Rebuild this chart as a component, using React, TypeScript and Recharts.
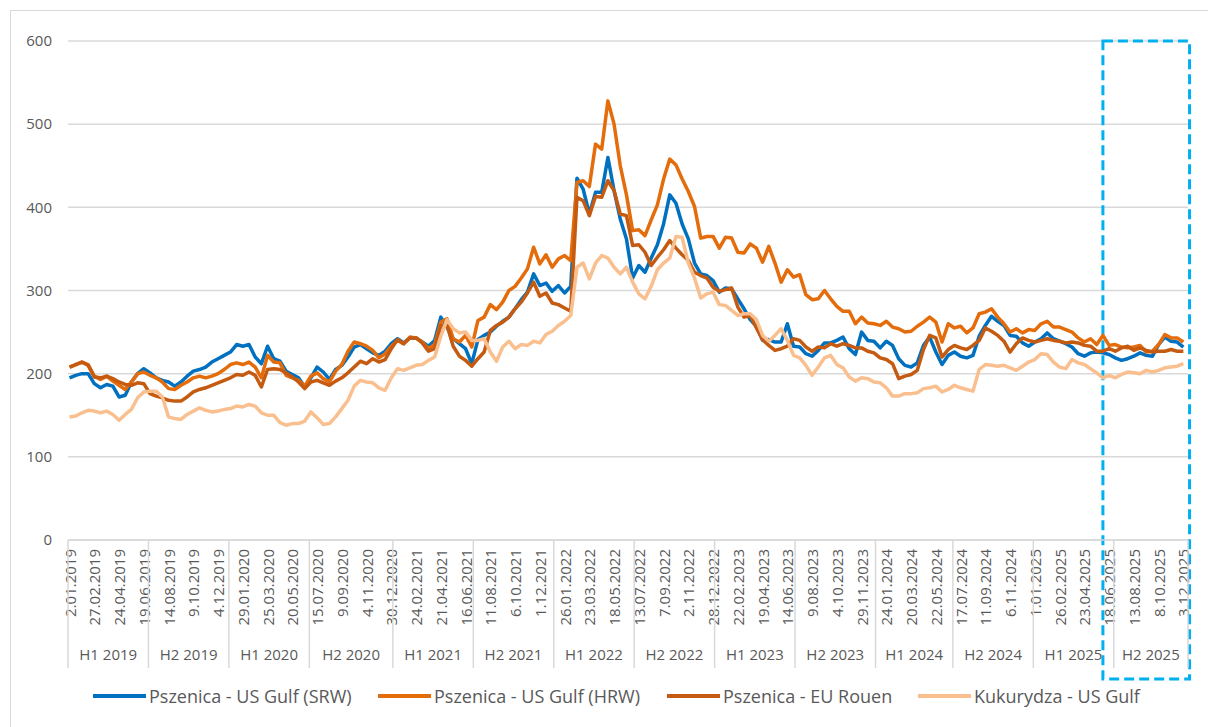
import { LineChart, Line, XAxis, YAxis, CartesianGrid, ReferenceArea } from "recharts";

// tick labels every 8 weeks (category index = 8 * position)
const DATE_LABELS = [
  "2.01.2019", "27.02.2019", "24.04.2019", "19.06.2019", "14.08.2019", "9.10.2019", "4.12.2019",
  "29.01.2020", "25.03.2020", "20.05.2020", "15.07.2020", "9.09.2020", "4.11.2020", "30.12.2020",
  "24.02.2021", "21.04.2021", "16.06.2021", "11.08.2021", "6.10.2021", "1.12.2021",
  "26.01.2022", "23.03.2022", "18.05.2022", "13.07.2022", "7.09.2022", "2.11.2022", "28.12.2022",
  "22.02.2023", "19.04.2023", "14.06.2023", "9.08.2023", "4.10.2023", "29.11.2023",
  "24.01.2024", "20.03.2024", "22.05.2024", "17.07.2024", "11.09.2024", "6.11.2024",
  "1.01.2025", "26.02.2025", "23.04.2025", "18.06.2025", "13.08.2025", "8.10.2025", "3.12.2025",
];

const HALF_LABELS = [
  "H1 2019", "H2 2019", "H1 2020", "H2 2020", "H1 2021", "H2 2021", "H1 2022",
  "H2 2022", "H1 2023", "H2 2023", "H1 2024", "H2 2024", "H1 2025", "H2 2025",
];
// first weekly category of each half-year
const HALF_STARTS = [0, 26, 52, 78, 105, 131, 157, 183, 209, 235, 261, 286, 312, 338];
const WEEK_COUNT = 362;

const Y_TICKS = [0, 100, 200, 300, 400, 500, 600];

// values every 2 weeks, from 2.01.2019
const SRW = [
  195, 198, 200, 200, 188, 183, 187, 185, 172, 174,
  190, 200, 206, 201, 195, 192, 190, 185, 190, 197,
  203, 205, 208, 214, 218, 222, 226, 235, 233, 235,
  220, 212, 233, 218, 215, 203, 199, 195, 184, 195,
  208, 202, 193, 205, 210, 220, 232, 235, 230, 225,
  222, 227, 236, 242, 237, 243, 243, 238, 233, 240,
  268, 256, 242, 236, 230, 212, 241, 246, 250, 257,
  263, 268, 278, 289, 298, 320, 306, 309, 299, 306,
  297, 305, 435, 422, 392, 418, 418, 460, 420, 386,
  362, 315, 330, 322, 339, 355, 380, 415, 405, 380,
  362, 333, 320, 318, 312, 298, 303, 302, 290, 278,
  265, 257, 240, 241, 238, 238, 260, 233, 232, 224,
  221, 228, 237, 237, 240, 244, 230, 223, 250, 240,
  239, 231, 239, 234, 218, 210, 208, 213, 234, 244,
  226, 211, 222, 226, 221, 219, 222, 245, 258, 269,
  263, 258, 246, 245, 237, 233, 238, 242, 249, 242,
  239, 236, 232, 224, 221, 225, 226, 225, 223, 219,
  216, 218, 221, 225, 222, 221, 235, 244, 239, 238,
  232,
];

const HRW = [
  208, 211, 214, 211, 197, 193, 197, 191, 186, 181,
  190, 200, 202, 198, 195, 190, 182, 181, 186, 190,
  195, 197, 195, 197, 200, 205, 211, 213, 211, 214,
  208, 195, 222, 214, 213, 198, 195, 192, 185, 197,
  201, 194, 190, 203, 211, 227, 238, 236, 233, 228,
  219, 224, 233, 240, 236, 244, 243, 238, 230, 235,
  262, 266, 242, 238, 246, 232, 264, 268, 283, 277,
  286, 300, 305, 315, 326, 352, 332, 343, 328, 338,
  342, 336, 430, 432, 425, 476, 470, 528, 500, 450,
  415, 372, 373, 366, 385, 403, 434, 458, 451, 434,
  419, 401, 363, 365, 365, 351, 364, 363, 346, 345,
  356, 351, 334, 353, 333, 310, 325, 316, 319, 295,
  289, 290, 300, 290, 281, 275, 275, 260, 268, 261,
  260, 258, 263, 256, 254, 250, 251, 257, 262, 268,
  262, 238, 260, 255, 257, 249, 255, 272, 274, 278,
  268, 260, 250, 254, 249, 253, 252, 260, 263, 256,
  256, 253, 250, 243, 238, 242, 235, 246, 234, 235,
  232, 231, 232, 234, 226, 227, 235, 247, 243, 243,
  238,
];

const ROUEN = [
  208, 211, 214, 210, 196, 195, 197, 194, 190, 187,
  186, 189, 188, 176, 173, 171, 168, 167, 167, 172,
  178, 181, 183, 186, 189, 192, 195, 199, 198, 202,
  198, 184, 205, 206, 205, 201, 196, 190, 182, 190,
  192, 189, 186, 191, 195, 201, 208, 215, 212, 218,
  214, 217, 230, 241, 236, 243, 243, 237, 227, 230,
  258, 258, 233, 221, 216, 209, 218, 226, 252, 258,
  262, 268, 278, 286, 297, 310, 293, 297, 285, 283,
  279, 275, 412, 408, 390, 413, 412, 432, 420, 392,
  390, 354, 355, 346, 330, 340, 349, 360, 351, 343,
  336, 322, 318, 315, 304, 299, 301, 303, 280, 268,
  270, 255, 241, 234, 228, 230, 233, 242, 240, 232,
  227, 232, 231, 236, 233, 236, 234, 231, 231, 227,
  225, 219, 217, 212, 194, 197, 199, 204, 229, 246,
  243, 220, 229, 234, 231, 229, 234, 240, 255, 251,
  246, 239, 226, 236, 243, 240, 238, 240, 242, 240,
  239, 237, 238, 237, 234, 233, 227, 227, 230, 227,
  231, 233, 228, 231, 228, 226, 227, 227, 229, 227,
  227,
];

const CORN = [
  148, 149, 153, 156, 155, 153, 155, 151, 144, 151,
  157, 171, 178, 179, 179, 172, 148, 146, 145, 151,
  155, 159, 156, 154, 155, 157, 158, 161, 160, 163,
  161, 153, 150, 150, 141, 138, 140, 140, 143, 154,
  147, 139, 140, 148, 158, 168, 185, 192, 190, 189,
  183, 180, 195, 206, 204, 207, 210, 211, 216, 220,
  245, 265, 254, 249, 250, 240, 240, 242, 226, 215,
  232, 239, 230, 235, 234, 239, 237, 247, 251, 258,
  263, 270, 328, 333, 314, 333, 342, 339, 328, 320,
  328, 310, 296, 290, 305, 325, 333, 339, 365, 364,
  333, 315, 291, 296, 298, 283, 282, 276, 270, 272,
  272, 265, 246, 239, 246, 254, 240, 222, 219, 210,
  198, 208, 219, 222, 211, 207, 196, 191, 195, 194,
  190, 189, 183, 173, 173, 176, 176, 177, 182, 183,
  185, 178, 181, 186, 183, 181, 179, 205, 211, 210,
  209, 210, 207, 204, 209, 214, 217, 224, 223, 214,
  208, 206, 217, 213, 211, 206, 201, 195, 198, 195,
  199, 202, 201, 200, 204, 202, 204, 207, 208, 209,
  212,
];

const SERIES = [
  { key: "srw", name: "Pszenica - US Gulf (SRW)", color: "#0070C0" },
  { key: "hrw", name: "Pszenica - US Gulf (HRW)", color: "#E46C0A" },
  { key: "rouen", name: "Pszenica - EU Rouen", color: "#C55A11" },
  { key: "corn", name: "Kukurydza - US Gulf", color: "#F9BF8F" },
];

const data = SRW.map((v, i) => ({ w: i * 2, srw: v, hrw: HRW[i], rouen: ROUEN[i], corn: CORN[i] }));

const dateTicks = DATE_LABELS.map((_, i) => i * 8);
const boundaryTicks = [...HALF_STARTS, WEEK_COUNT].map((s) => s - 0.5);
const halfCenters = HALF_STARTS.map((s, i) => (s + (HALF_STARTS[i + 1] ?? WEEK_COUNT)) / 2 - 0.5);

const FONT = "'Open Sans', 'Segoe UI', sans-serif";
const TEXT = "#595959";
const GRID = "#d9d9d9";
const LEGEND_LEFT = [93, 378, 667, 918];

function DateTick(props: any) {
  const { x, y, payload } = props;
  const v = payload.value;
  if (!Number.isInteger(v)) {
    return <line x1={x} x2={x} y1={y} y2={y + 128} stroke={GRID} strokeWidth={1.5} />;
  }
  const ty = y + 9;
  return (
    <text
      x={x}
      y={ty}
      transform={`rotate(-90 ${x} ${ty})`}
      textAnchor="end"
      dominantBaseline="central"
      fill={TEXT}
      fontSize={15}
      fontFamily={FONT}
    >
      {DATE_LABELS[v / 8]}
    </text>
  );
}

function HalfTick(props: any) {
  const { x, y, payload } = props;
  const idx = halfCenters.indexOf(payload.value);
  return (
    <text x={x} y={y + 34} textAnchor="middle" dominantBaseline="central" fill={TEXT} fontSize={15} fontFamily={FONT}>
      {HALF_LABELS[idx]}
    </text>
  );
}

function DashedBox(props: any) {
  const { x, y, width, height } = props;
  return (
    <rect
      x={x}
      y={y}
      width={width}
      height={height + 139}
      fill="none"
      stroke="#00B0F0"
      strokeWidth={3}
      strokeDasharray="10 5"
    />
  );
}

export default function App() {
  return (
    <div style={{ position: "absolute", left: 0, top: 0, width: 1208, height: 727, background: "#fff", overflow: "hidden", fontFamily: FONT }}>
      <div style={{ position: "absolute", left: 10, top: 10, width: 1220, height: 740, border: `1px solid ${GRID}` }} />
      <LineChart width={1208} height={727} data={data} margin={{ top: 41, right: 20, left: 0, bottom: 47 }}>
        <CartesianGrid vertical={false} stroke={GRID} strokeWidth={1.5} />
        <XAxis
          dataKey="w"
          type="number"
          domain={[-0.5, WEEK_COUNT - 0.5]}
          allowDataOverflow
          ticks={[...dateTicks, ...boundaryTicks]}
          interval={0}
          tick={<DateTick />}
          tickLine={false}
          tickSize={0}
          tickMargin={0}
          height={80}
          axisLine={{ stroke: GRID, strokeWidth: 1.5 }}
        />
        <XAxis
          xAxisId="half"
          dataKey="w"
          type="number"
          domain={[-0.5, WEEK_COUNT - 0.5]}
          allowDataOverflow
          ticks={halfCenters}
          interval={0}
          tick={<HalfTick />}
          tickLine={false}
          tickSize={0}
          tickMargin={0}
          axisLine={false}
          height={60}
        />
        <YAxis
          type="number"
          domain={[0, 600]}
          ticks={Y_TICKS}
          width={68}
          axisLine={false}
          tickLine={false}
          tickSize={0}
          tickMargin={16}
          tick={{ fill: TEXT, fontSize: 15, fontFamily: FONT }}
        />
        {SERIES.map((s) => (
          <Line
            key={s.key}
            dataKey={s.key}
            name={s.name}
            type="linear"
            stroke={s.color}
            strokeWidth={3.5}
            strokeLinejoin="round"
            dot={false}
            activeDot={false}
            isAnimationActive={false}
          />
        ))}
        <ReferenceArea x1={334} x2={362} y1={0} y2={600} ifOverflow="visible" shape={<DashedBox />} />
      </LineChart>
      <div style={{ position: "absolute", left: 0, top: 686, width: 1208, height: 20 }}>
        {SERIES.map((s, i) => (
          <div key={s.key} style={{ position: "absolute", left: LEGEND_LEFT[i], top: 0, height: 20, display: "flex", alignItems: "center" }}>
            <span style={{ display: "inline-block", width: 53, height: 4, background: s.color, marginRight: 3 }} />
            <span style={{ fontSize: 18, color: TEXT, whiteSpace: "nowrap" }}>{s.name}</span>
          </div>
        ))}
      </div>
    </div>
  );
}
